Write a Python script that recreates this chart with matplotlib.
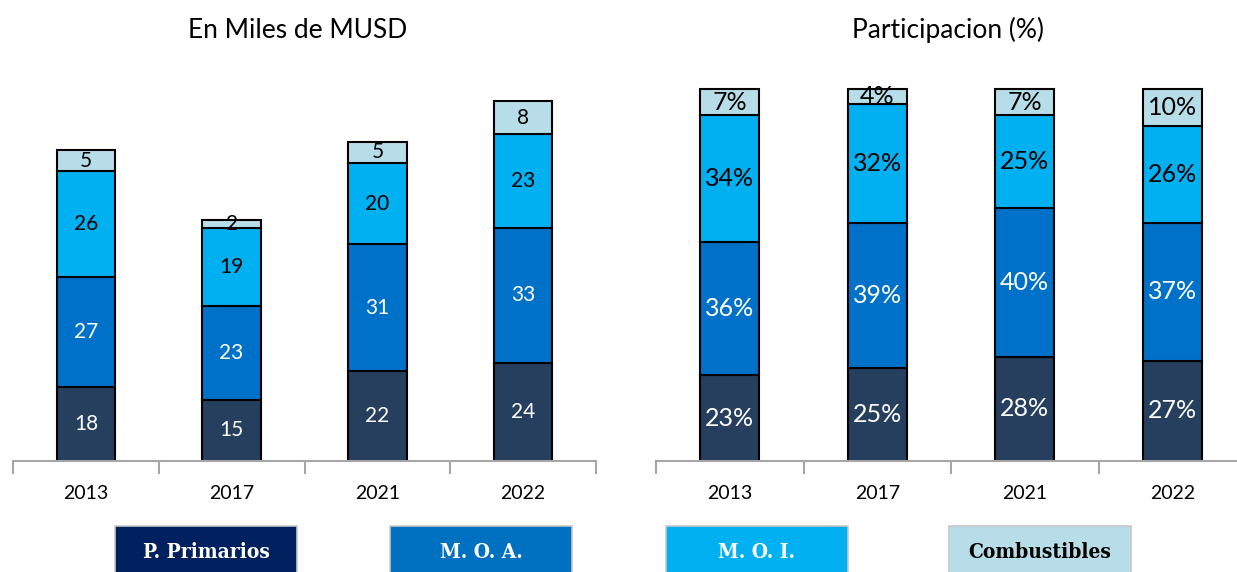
import matplotlib
matplotlib.use("Agg")
import matplotlib.pyplot as plt
from matplotlib.patches import Rectangle
import numpy as np

plt.rcParams['font.family'] = ['Lato', 'DejaVu Sans']

years = ["2013", "2017", "2021", "2022"]
series = ["P. Primarios", "M. O. A.", "M. O. I.", "Combustibles"]

# valores en miles de MUSD
miles = {
    "P. Primarios": [18, 15, 22, 24],
    "M. O. A.": [27, 23, 31, 33],
    "M. O. I.": [26, 19, 20, 23],
    "Combustibles": [5, 2, 5, 8],
}

# participacion en %
part = {
    "P. Primarios": [23, 25, 28, 27],
    "M. O. A.": [36, 39, 40, 37],
    "M. O. I.": [34, 32, 25, 26],
    "Combustibles": [7, 4, 7, 10],
}

bar_col = ["#263f5f", "#0071c8", "#00b0f0", "#b7dee8"]
txt_col = ["white", "white", "black", "black"]
legend_col = ["#002060", "#0070c0", "#00b0f0", "#b7dee8"]

fig = plt.figure(figsize=(12.37, 5.72), dpi=100)
ax1 = fig.add_axes([13/1237, 0.194, 583/1237, 0.666])
ax2 = fig.add_axes([656/1237, 0.194, 590/1237, 0.666])


def stacked(ax, data, fmt, fs, ymax):
    x = np.arange(len(years))
    bottom = np.zeros(len(years))
    for i, s in enumerate(series):
        vals = np.array(data[s], dtype=float)
        ax.bar(x, vals, 0.4, bottom=bottom, color=bar_col[i],
               edgecolor="black", linewidth=1.5, zorder=2)
        for xi, b, v in zip(x, bottom, vals):
            ax.text(xi, b + v / 2, fmt.format(int(v)), ha="center", va="center",
                    color=txt_col[i], fontsize=fs, zorder=3)
        bottom += vals
    ax.set_xlim(-0.5, 3.5)
    ax.set_ylim(0, ymax)
    for sp in ["top", "right", "left"]:
        ax.spines[sp].set_visible(False)
    ax.spines["bottom"].set_color("#a6a6a6")
    ax.spines["bottom"].set_linewidth(1.5)
    ax.set_yticks([])
    ax.set_xticks(x)
    ax.set_xticklabels(years, fontsize=14)
    ax.tick_params(axis="x", which="major", length=0, pad=17)
    ax.set_xticks(np.arange(-0.5, 4.0, 1.0), minor=True)
    ax.tick_params(axis="x", which="minor", length=9, width=1.5, color="#a6a6a6")


stacked(ax1, miles, "{}", 15, 93.2)
stacked(ax2, part, "{}%", 18, 102.4)

fig.text(298/1237, 1 - 30/572, "En Miles de MUSD", ha="center", va="center", fontsize=19)
fig.text(948/1237, 1 - 30/572, "Participacion (%)", ha="center", va="center", fontsize=19)

# leyenda como cajas
box_x = [115, 390, 666, 949]
for i, s in enumerate(series):
    x0 = box_x[i] / 1237
    fig.add_artist(Rectangle((x0, -0.05), 182/1237, 0.05 + 46/572,
                             transform=fig.transFigure, facecolor=legend_col[i],
                             edgecolor="#c8c8c8", linewidth=1.2))
    fig.text(x0 + 91/1237, 1 - 552/572, s, ha="center", va="center",
             fontsize=15, fontweight="bold", family="DejaVu Serif",
             fontstretch="condensed",
             color="black" if i == 3 else "white")

fig.savefig("out.png", dpi=100)
